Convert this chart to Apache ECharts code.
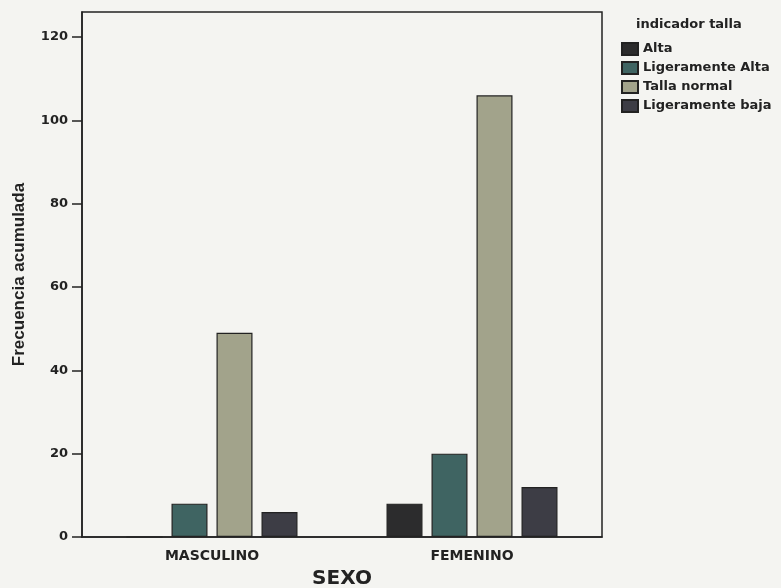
<!DOCTYPE html>
<html>
<head>
<meta charset="utf-8">
<script src="https://cdn.jsdelivr.net/npm/echarts@6/dist/echarts.min.js"></script>
<style>html,body{margin:0;padding:0;background:#f4f4f1;}#c{width:781px;height:588px;}</style>
</head>
<body>
<div id="c"></div>
<script>
var categories = ['MASCULINO', 'FEMENINO'];
var seriesNames = ['Alta', 'Ligeramente Alta', 'Talla normal', 'Ligeramente baja'];
var alta = [0, 8];
var ligeramenteAlta = [8, 20];
var tallaNormal = [49, 106];
var ligeramenteBaja = [6, 12];
var yTicks = [0, 20, 40, 60, 80, 100, 120];

var colors = ['#2c2c2d', '#3f6462', '#a2a38b', '#3d3d45'];
var values = [alta, ligeramenteAlta, tallaNormal, ligeramenteBaja];
var wide = 'DejaVu Sans, Verdana, sans-serif';
var narrow = 'Liberation Sans, Arial, sans-serif';

var chart = echarts.init(document.getElementById('c'));
chart.setOption({
  backgroundColor: '#f4f4f1',
  animation: false,
  title: {
    text: 'indicador talla', left: 631, top: 13,
    textStyle: { fontFamily: wide, fontSize: 13, fontWeight: 'bold', color: '#222' }
  },
  legend: {
    orient: 'vertical', left: 616, top: 37, itemWidth: 16, itemHeight: 12, itemGap: 5,
    icon: 'rect', data: seriesNames,
    textStyle: { fontFamily: wide, fontSize: 13, lineHeight: 13, fontWeight: 'bold', color: '#222' }
  },
  grid: { left: 82, right: 179, top: 12, bottom: 51, outerBoundsMode: 'none', containLabel: false,
    show: true, borderColor: '#222', borderWidth: 1.5, backgroundColor: 'transparent' },
  xAxis: {
    type: 'category', data: categories,
    name: 'SEXO', nameLocation: 'middle', nameGap: 32,
    nameTextStyle: { fontFamily: wide, fontSize: 20, fontWeight: 'bold', color: '#222' },
    axisLine: { lineStyle: { color: '#222', width: 1.5 } },
    axisTick: { alignWithLabel: true, length: 6, lineStyle: { color: '#222', width: 1.5 } },
    axisLabel: { fontFamily: wide, fontSize: 14, fontWeight: 'bold', color: '#222', margin: 12 }
  },
  yAxis: {
    type: 'value', min: 0, max: 126, interval: 20,
    name: 'Frecuencia acumulada', nameLocation: 'middle', nameGap: 54,
    nameTextStyle: { fontFamily: narrow, fontSize: 17, fontWeight: 'bold', color: '#222' },
    axisLine: { show: true, lineStyle: { color: '#222', width: 1.5 } },
    axisTick: { show: true, length: 10, customValues: yTicks, lineStyle: { color: '#222', width: 1.5 } },
    splitLine: { show: false },
    axisLabel: {
      fontFamily: wide, fontSize: 13, fontWeight: 'bold', color: '#222', margin: 14,
      customValues: yTicks
    }
  },
  series: seriesNames.map(function (n, i) {
    return {
      name: n, type: 'bar', data: values[i],
      barWidth: 36, barGap: '25%',
      itemStyle: { color: colors[i], borderColor: '#222', borderWidth: 1.2 }
    };
  })
});
</script>
</body>
</html>
